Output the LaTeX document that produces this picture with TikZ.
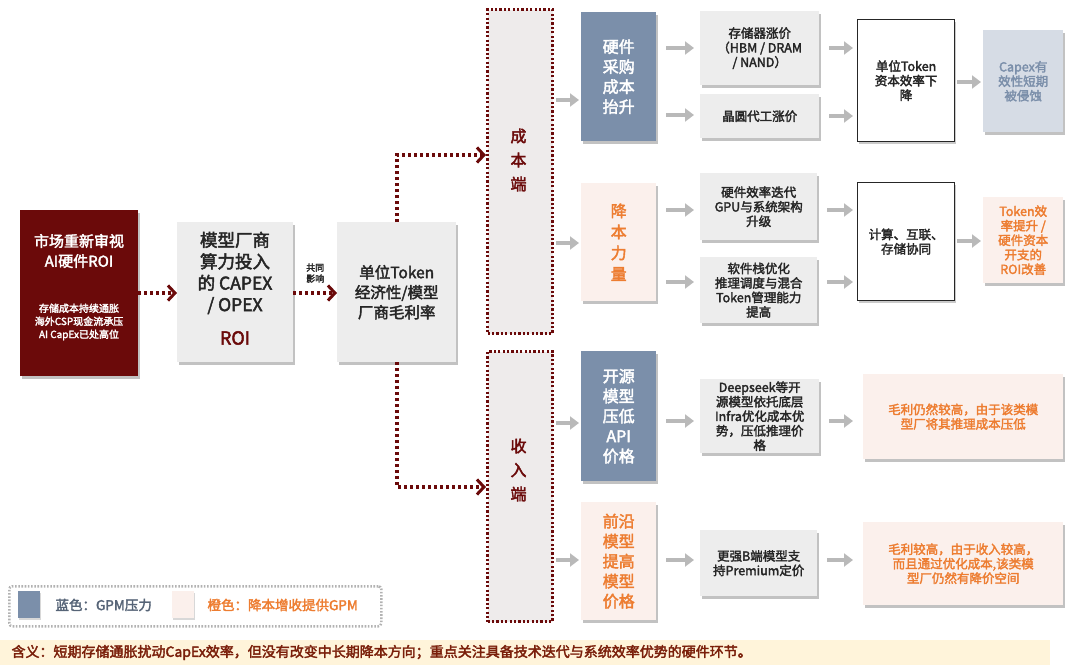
\documentclass[tikz,border=0pt]{standalone}
\usepackage{fontspec}
\setmainfont{Noto Sans CJK SC}[BoldFont={Noto Sans CJK SC},BoldFeatures={FakeBold=2.5}]
\usetikzlibrary{arrows.meta,shadows}
\definecolor{dred}{HTML}{6B0A0A}
\definecolor{lgray}{HTML}{EDEDED}
\definecolor{colfill}{HTML}{EEEBEB}
\definecolor{blu}{HTML}{7B8FAA}
\definecolor{lblu}{HTML}{D6DCE5}
\definecolor{pink}{HTML}{FBF0EC}
\definecolor{orng}{HTML}{ED7D31}
\definecolor{txt}{HTML}{262626}
\definecolor{strip}{HTML}{FFF4DA}
\definecolor{striptxt}{HTML}{7A1F0A}
\tikzset{
  box/.style={anchor=north west,inner sep=1pt,align=center,font=\bfseries\fontsize{12.5}{14.5}\selectfont,text=txt,drop shadow={shadow xshift=1.5pt,shadow yshift=-2.5pt,fill=black!40,opacity=.6}},
  gbox/.style={box,fill=lgray},
  wbox/.style={anchor=north west,inner sep=1pt,align=center,font=\bfseries\fontsize{12.5}{14.5}\selectfont,text=txt,fill=white,draw=txt,line width=1.2pt,drop shadow={shadow xshift=1.5pt,shadow yshift=-2pt,fill=black!35,opacity=.6}},
  bbox/.style={box,fill=blu,text=white,font=\bfseries\fontsize{16}{20}\selectfont},
  pbox/.style={box,fill=pink,text=orng,font=\bfseries\fontsize{16}{20}\selectfont},
  col/.style={anchor=north west,fill=colfill,draw=dred,line width=3.2pt,dash pattern=on 2.2pt off 2.2pt,inner sep=0pt},
  garr/.style={-{Triangle[length=9pt,width=13pt]},draw=gray!55,line width=4pt,shorten <=2pt,shorten >=2pt},
  rarr/.style={-{Straight Barb[length=7pt,width=15pt,line width=3pt]},draw=dred,line width=4pt,dash pattern=on 3pt off 3pt},
}
\begin{document}
\begin{tikzpicture}[x=1pt,y=-1pt]
\useasboundingbox (0,0) rectangle (1080,672);
% left chain
\node[box,fill=dred,text=white,minimum width=118pt,minimum height=166pt] (roi) at (20,210) {};
\node[text=white,font=\bfseries\fontsize{15}{20}\selectfont,align=center] (roit) at (79,251) {市场重新审视\\AI硬件ROI};
\node[text=white,font=\bfseries\fontsize{10}{13}\selectfont,align=center] (roib) at (79,322) {存储成本持续通胀\\海外CSP现金流承压\\AI CapEx已处高位};
\node[gbox,minimum width=116pt,minimum height=140pt] (capex) at (177,222) {};
\node[font=\bfseries\fontsize{17.5}{21.5}\selectfont,text=txt,align=center] (capext) at (235,273) {模型厂商\\算力投入\\的 CAPEX\\/ OPEX};
\node[font=\bfseries\fontsize{18}{20}\selectfont,text=dred] (roil) at (235,338) {ROI};
\node[gbox,minimum width=119pt,minimum height=140pt,font=\bfseries\fontsize{15.5}{20}\selectfont] (unit) at (337,222) {单位Token\\经济性/模型\\厂商毛利率};
\draw[rarr] (roi.east|-0,293) -- (capex.west|-0,293);
\draw[rarr] (capex.east|-0,293) -- (unit.west|-0,293) node[midway,above=5pt,font=\bfseries\fontsize{9}{11}\selectfont,text=txt,align=center] (gt) {共同\\影响};
% columns
\node[col,minimum width=65pt,minimum height=324pt] (cost) at (486,8) {};
\node[font=\bfseries\fontsize{16}{24}\selectfont,text=dred,align=center] (costt) at (518.5,160) {成\\本\\端};
\node[col,minimum width=65pt,minimum height=270pt] (rev) at (486,350) {};
\node[font=\bfseries\fontsize{16}{24}\selectfont,text=dred,align=center] (revt) at (518.5,470) {收\\入\\端};
\coordinate (c1) at (397,155);
\coordinate (c2) at (397,487);
\draw[rarr] (unit.north-|c1) -- (c1) -- (cost.west|-c1);
\draw[rarr] (unit.south-|c2) -- (c2) -- (rev.west|-c2);
% row 1
\node[bbox,minimum width=75pt,minimum height=129pt] (hw) at (581,12) {硬件\\采购\\成本\\抬升};
\node[gbox,minimum width=119pt,minimum height=74pt] (mem) at (700,11) {存储器涨价\\（HBM / DRAM\\/ NAND）};
\node[gbox,minimum width=119pt,minimum height=44pt] (wafer) at (700,94) {晶圆代工涨价};
\node[wbox,minimum width=97pt,minimum height=122pt] (eff) at (857,19) {单位Token\\资本效率下\\降};
\node[box,fill=lblu,text=blu,minimum width=80pt,minimum height=102pt] (cx) at (983,30) {Capex有\\效性短期\\被侵蚀};
% row 2
\node[pbox,minimum width=75pt,minimum height=118pt,font=\bfseries\fontsize{16}{21}\selectfont] (cut) at (581,183) {降\\本\\力\\量};
\node[gbox,minimum width=117pt,minimum height=67pt] (gpu) at (700,173) {硬件效率迭代\\GPU与系统架构\\升级};
\node[gbox,minimum width=117pt,minimum height=66pt] (sw) at (700,257) {软件栈优化\\推理调度与混合\\Token管理能力\\提高};
\node[wbox,minimum width=97pt,minimum height=118pt] (comp) at (857,182) {计算、互联、\\存储协同};
\node[box,fill=pink,text=orng,minimum width=80pt,minimum height=86pt] (tk) at (983,197) {Token效\\率提升 /\\硬件资本\\开支的\\ROI改善};
% row 3
\node[bbox,minimum width=75pt,minimum height=130pt] (open) at (581,351) {开源\\模型\\压低\\API\\价格};
\node[gbox,minimum width=119pt,minimum height=74pt] (ds) at (700,379) {Deepseek等开\\源模型依托底层\\Infra优化成本优\\势，压低推理价\\格};
\node[box,fill=pink,text=orng,minimum width=200pt,minimum height=85pt] (g1) at (863,374) {毛利仍然较高，由于该类模\\型厂将其推理成本压低};
% row 4
\node[pbox,minimum width=75pt,minimum height=118pt] (front) at (581,502) {前沿\\模型\\提高\\模型\\价格};
\node[gbox,minimum width=117pt,minimum height=66pt] (bb) at (700,530) {更强B端模型支\\持Premium定价};
\node[box,fill=pink,text=orng,minimum width=200pt,minimum height=83pt] (g2) at (863,522) {毛利较高，由于收入较高，\\而且通过优化成本,该类模\\型厂仍然有降价空间};
% gray arrows
\draw[garr] (cost.east|-0,100) -- (hw.west|-0,100);
\draw[garr] (cost.east|-0,243) -- (cut.west|-0,243);
\draw[garr] (rev.east|-0,423) -- (open.west|-0,423);
\draw[garr] (rev.east|-0,560) -- (front.west|-0,560);
\foreach \y/\a/\b in {48/hw/mem,115/hw/wafer,210/cut/gpu,282/cut/sw,421/open/ds,560/front/bb}
  \draw[garr,shorten <=10pt,shorten >=6pt] (\a.east|-0,\y) -- (\b.west|-0,\y);
\foreach \y/\a/\b in {48/mem/eff,116/wafer/eff,210/gpu/comp,282/sw/comp}
  \draw[garr,shorten <=10pt,shorten >=4pt] (\a.east|-0,\y) -- (\b.west|-0,\y);
\draw[garr,shorten <=10pt,shorten >=10pt] (ds.east|-0,421) -- (g1.west|-0,421);
\draw[garr,shorten <=10pt,shorten >=10pt] (bb.east|-0,560) -- (g2.west|-0,560);
\draw[garr] (eff.east|-0,82) -- (cx.west|-0,82);
\draw[garr] (comp.east|-0,241) -- (tk.west|-0,241);
% legend
\node[anchor=north west,draw=gray!60,line width=2.5pt,dash pattern=on 1.6pt off 1.6pt,rounded corners=3pt,minimum width=372pt,minimum height=40pt] (leg) at (8,585) {};
\node[anchor=north west,fill=blu,minimum width=22pt,minimum height=27pt,inner sep=0,drop shadow={shadow xshift=1pt,shadow yshift=-1.5pt,fill=black!30}] (lb) at (18,591) {};
\node[anchor=west,font=\bfseries\fontsize{13.5}{15}\selectfont,text=blu!70!black] (lbt) at (52,605) {蓝色：GPM压力};
\node[anchor=north west,fill=pink,minimum width=22pt,minimum height=27pt,inner sep=0,drop shadow={shadow xshift=1pt,shadow yshift=-1.5pt,fill=black!30}] (lp) at (172,591) {};
\node[anchor=west,font=\bfseries\fontsize{13.5}{15}\selectfont,text=orng] (lpt) at (204,605) {橙色：降本增收提供GPM};
% strip
\node[anchor=north west,fill=strip,minimum width=1050pt,minimum height=25pt,inner sep=0] (st) at (0,640) {};
\node[anchor=west,font=\bfseries\fontsize{14}{15}\selectfont,text=striptxt] (stt) at (8,652.5) {含义：短期存储通胀扰动CapEx效率，但没有改变中长期降本方向；重点关注具备技术迭代与系统效率优势的硬件环节。};
\end{tikzpicture}
\end{document}
